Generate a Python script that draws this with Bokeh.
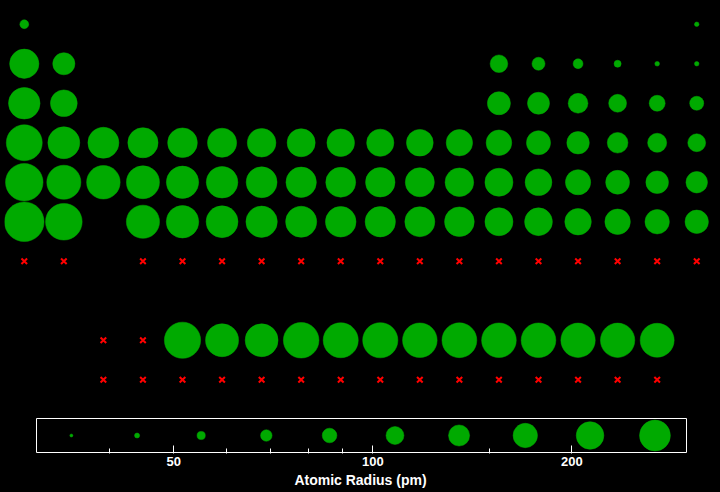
import math
from bokeh.plotting import figure
from bokeh.models import (Range1d, FixedTicker, BasicTickFormatter, ColumnDataSource,
                          LogScale, LogAxis)
from bokeh.embed import file_html
from bokeh.resources import INLINE

# ---- data -------------------------------------------------------------
# element symbols, table column (group), display row (9 = lanthanides, 10 = actinides)
symbols = ["H", "He",
           "Li", "Be", "B", "C", "N", "O", "F", "Ne",
           "Na", "Mg", "Al", "Si", "P", "S", "Cl", "Ar",
           "K", "Ca", "Sc", "Ti", "V", "Cr", "Mn", "Fe", "Co", "Ni", "Cu", "Zn", "Ga", "Ge", "As", "Se", "Br", "Kr",
           "Rb", "Sr", "Y", "Zr", "Nb", "Mo", "Tc", "Ru", "Rh", "Pd", "Ag", "Cd", "In", "Sn", "Sb", "Te", "I", "Xe",
           "Cs", "Ba", "Hf", "Ta", "W", "Re", "Os", "Ir", "Pt", "Au", "Hg", "Tl", "Pb", "Bi", "Po", "At", "Rn",
           "Fr", "Ra", "Rf", "Db", "Sg", "Bh", "Hs", "Mt", "Ds", "Rg", "Cn", "Nh", "Fl", "Mc", "Lv", "Ts", "Og",
           "La", "Ce", "Pr", "Nd", "Pm", "Sm", "Eu", "Gd", "Tb", "Dy", "Ho", "Er", "Tm", "Yb", "Lu",
           "Ac", "Th", "Pa", "U", "Np", "Pu", "Am", "Cm", "Bk", "Cf", "Es", "Fm", "Md", "No", "Lr"]

groups = [1, 18,
          1, 2, 13, 14, 15, 16, 17, 18,
          1, 2, 13, 14, 15, 16, 17, 18,
          1, 2, 3, 4, 5, 6, 7, 8, 9, 10, 11, 12, 13, 14, 15, 16, 17, 18,
          1, 2, 3, 4, 5, 6, 7, 8, 9, 10, 11, 12, 13, 14, 15, 16, 17, 18,
          1, 2, 4, 5, 6, 7, 8, 9, 10, 11, 12, 13, 14, 15, 16, 17, 18,
          1, 2, 4, 5, 6, 7, 8, 9, 10, 11, 12, 13, 14, 15, 16, 17, 18,
          3, 4, 5, 6, 7, 8, 9, 10, 11, 12, 13, 14, 15, 16, 17,
          3, 4, 5, 6, 7, 8, 9, 10, 11, 12, 13, 14, 15, 16, 17]

rows = [1] * 2 + [2] * 8 + [3] * 8 + [4] * 18 + [5] * 18 + [6] * 17 + [7] * 17 + [9] * 15 + [10] * 15

# atomic radius in pm (None = no value)
radius_pm = [53, 31,
             167, 112, 87, 67, 56, 48, 42, 38,
             190, 145, 118, 111, 98, 88, 79, 71,
             243, 194, 184, 176, 171, 166, 161, 156, 152, 149, 145, 142, 136, 125, 114, 103, 94, 88,
             265, 219, 212, 206, 198, 190, 183, 178, 173, 169, 165, 161, 156, 145, 133, 123, 115, 108,
             298, 253, 208, 200, 193, 188, 185, 180, 177, 174, 171, 156, 154, 143, 135, 127, 120,
             None, None, None, None, None, None, None, None, None, None, None, None, None, None, None, None, None,
             None, None, 247, 206, 205, 238, 231, 233, 225, 228, 226, 226, 222, 222, 217,
             None, None, None, None, None, None, None, None, None, None, None, None, None, None, None]

# size-key values (pm) and axis ticks
key_values = [35, 44, 55, 69, 86, 108, 135, 170, 213, 267]
major_ticks = [50, 100, 200]
minor_ticks = [40, 60, 70, 80, 90, 150]
radius_min, radius_max = 31, 298

GREEN = "#00aa00"

# ---- geometry (pixels) ----------------------------------------------------
W, H = 720, 492
BL, BR, BT, BB = 4, 4, 4, 39          # borders around the frame
frame_top, frame_bot = BT, H - BB     # 4 .. 453
row_px = 39.5                         # table cell height
key_left_px, key_right_px = 36, 686   # size-key box, horizontal
key_top_px, key_bot_px = 418, 452     # size-key box, vertical

# table y range (flipped), row 0.5 at frame top
table_y_start = 0.5 + (frame_bot - frame_top) / row_px

# key x range (log), extended so radius_min/max land on the box edges
dec_per_px = math.log10(radius_max / radius_min) / (key_right_px - key_left_px)
key_x_lo = radius_min / 10 ** ((key_left_px - BL) * dec_per_px)
key_x_hi = radius_max * 10 ** (((W - BR) - key_right_px) * dec_per_px)
# key y range: 0 at box bottom, 1 at box top
unit_px = key_bot_px - key_top_px
key_y_lo = -(frame_bot - key_bot_px) / unit_px
key_y_hi = (key_bot_px - frame_top) / unit_px


def dot_size(r):
    return max(4.5, 41.0 * math.log10(r / 32.3))


def key_size(r):
    return max(3.0, 33.0 * math.log10(r / 31.0))


have = [i for i, r in enumerate(radius_pm) if r is not None]
miss = [i for i, r in enumerate(radius_pm) if r is None]

src_have = ColumnDataSource(dict(
    x=[groups[i] for i in have], y=[rows[i] for i in have],
    sym=[symbols[i] for i in have], r=[radius_pm[i] for i in have],
    s=[dot_size(radius_pm[i]) for i in have]))
src_miss = ColumnDataSource(dict(
    x=[groups[i] for i in miss], y=[rows[i] for i in miss],
    sym=[symbols[i] for i in miss]))
src_key = ColumnDataSource(dict(x=key_values, y=[0.5] * len(key_values),
                                s=[key_size(v) for v in key_values]))

p = figure(width=W, height=H,
           x_range=Range1d(0.5, 18.5), y_range=Range1d(table_y_start, 0.5),
           extra_x_ranges={"key": Range1d(key_x_lo, key_x_hi)},
           extra_x_scales={"key": LogScale()},
           extra_y_ranges={"key": Range1d(key_y_lo, key_y_hi)},
           output_backend="svg", toolbar_location=None,
           x_axis_location=None, y_axis_location=None,
           background_fill_color="black", border_fill_color="black",
           outline_line_color=None,
           min_border_left=BL, min_border_right=BR, min_border_top=BT, min_border_bottom=BB)
p.grid.visible = False
p.styles = {"background-color": "black"}

# table
p.scatter("x", "y", size="s", source=src_have, fill_color=GREEN, line_color=GREEN, line_width=0.5)
p.scatter("x", "y", marker="x", size=8, source=src_miss, line_color="#ff0000", line_width=2)

# size key
p.quad(left=[radius_min], right=[radius_max], bottom=[0], top=[1],
       x_range_name="key", y_range_name="key",
       fill_color=None, line_color="white", line_width=1)
p.scatter("x", "y", size="s", source=src_key, x_range_name="key", y_range_name="key",
          fill_color=GREEN, line_color=GREEN, line_width=0.5)

ax = LogAxis(x_range_name="key",
             ticker=FixedTicker(ticks=major_ticks, minor_ticks=minor_ticks),
             formatter=BasicTickFormatter())
ax.axis_line_color = None
ax.major_tick_line_color = "white"
ax.minor_tick_line_color = "white"
ax.major_tick_in = 8
ax.major_tick_out = 0
ax.minor_tick_in = 5
ax.minor_tick_out = 0
ax.major_label_standoff = 3
ax.major_label_text_color = "white"
ax.major_label_text_font = "Liberation Sans"
ax.major_label_text_font_style = "bold"
ax.major_label_text_font_size = "13px"
ax.axis_label = "Atomic Radius (pm)"
ax.axis_label_text_color = "white"
ax.axis_label_text_font = "Liberation Sans"
ax.axis_label_text_font_style = "bold"
ax.axis_label_text_font_size = "14px"
ax.axis_label_standoff = 3
p.add_layout(ax, "below")

open("out.html", "w").write(file_html(p, INLINE))
